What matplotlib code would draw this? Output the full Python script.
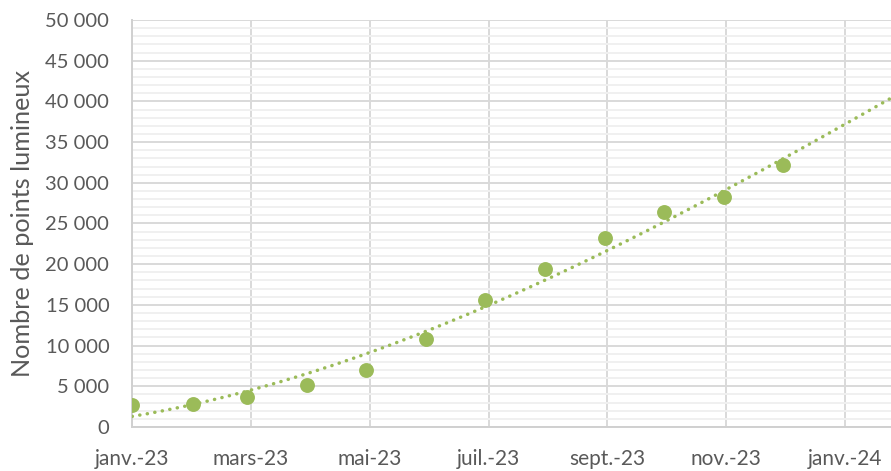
import numpy as np
import matplotlib
matplotlib.use("Agg")
import matplotlib.pyplot as plt
import matplotlib.dates as mdates
from matplotlib.ticker import MultipleLocator, FuncFormatter
import datetime as dt

# Data (scatter points, 1st of each month)
months = ["2023-01-01", "2023-02-01", "2023-03-01", "2023-04-01", "2023-05-01", "2023-06-01",
          "2023-07-01", "2023-08-01", "2023-09-01", "2023-10-01", "2023-11-01", "2023-12-01"]
points = [2650, 2800, 3650, 5200, 7000, 10800, 15600, 19450, 23200, 26400, 28300, 32200]

# Trendline values (days after 2023-01-01 -> value)
trend_days = [4, 59, 120, 181, 243, 304, 334, 366, 389.6]
trend_values = [1474, 4360, 9080, 14690, 21550, 29050, 32880, 37380, 40300]

# Axis: date axis starting 2023-01-01, major unit 61 days
tick_dates = ["2023-01-01", "2023-03-03", "2023-05-03", "2023-07-03", "2023-09-02", "2023-11-02", "2024-01-02"]
tick_labels = ["janv.-23", "mars-23", "mai-23", "juil.-23", "sept.-23", "nov.-23", "janv.-24"]
ylabel = "Nombre de points lumineux"

plt.rcParams['font.family'] = ['Lato', 'DejaVu Sans']
green = "#9BBB59"
txt = "#595959"

fig = plt.figure(figsize=(8.91, 4.71), dpi=100)
ax = fig.add_axes([132.2/891, (471-427)/471, 1 - 132.2/891, (427-20)/471])

xmin = mdates.date2num(dt.date(2023, 1, 1))
xmax = xmin + trend_days[-1]

x = mdates.date2num([dt.date.fromisoformat(d) for d in months])
y = np.array(points, dtype=float)

# smooth trendline through the read trend values
coef = np.polyfit(np.array(trend_days), np.array(trend_values, dtype=float), 3)
tt = np.linspace(0, trend_days[-1], 600)
ax.plot(xmin + tt, np.polyval(coef, tt), color=green, lw=2.5, linestyle=(0, (0.05, 2.15)),
        dash_capstyle='round', solid_capstyle='round', zorder=3)

ax.scatter(x, y, s=115, color=green, zorder=4, linewidths=0)

ax.set_xlim(xmin, xmax)
ax.set_ylim(0, 50000)

ax.yaxis.set_major_locator(MultipleLocator(5000))
ax.yaxis.set_minor_locator(MultipleLocator(1000))
ax.yaxis.set_major_formatter(FuncFormatter(lambda v, p: f"{int(v):,}".replace(",", " ")))

tx = mdates.date2num([dt.date.fromisoformat(d) for d in tick_dates])
ax.set_xticks(tx)
ax.set_xticklabels(tick_labels)

ax.grid(which='major', axis='both', color='#d9d9d9', lw=1.4, zorder=1)
ax.grid(which='minor', axis='y', color='#f0f0f0', lw=1.4, zorder=0)
ax.set_axisbelow(True)

for s in ['top', 'right']:
    ax.spines[s].set_visible(False)
for s in ['left', 'bottom']:
    ax.spines[s].set_color('#d0d0d0')
    ax.spines[s].set_linewidth(1.4)

ax.tick_params(axis='both', which='both', length=0, colors=txt)
ax.tick_params(axis='y', pad=16.5, labelsize=14.5)
ax.tick_params(axis='x', pad=16, labelsize=15)

ax.set_ylabel(ylabel, fontsize=18.2, color=txt)
ax.yaxis.set_label_coords((34 - 132.2) / (891 - 132.2), 0.5)

fig.savefig("out.png", dpi=100)
